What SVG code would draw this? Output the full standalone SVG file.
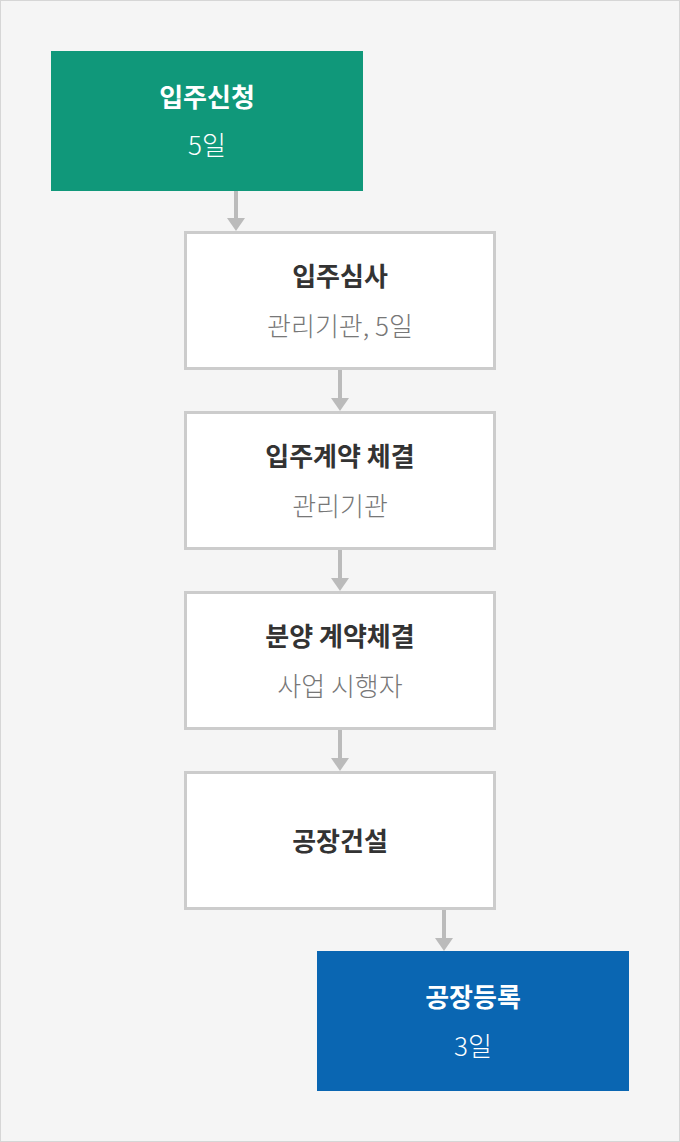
<svg xmlns="http://www.w3.org/2000/svg" width="680" height="1142" viewBox="0 0 680 1142">
<defs>
<style>
.t{font-family:"Noto Sans CJK KR","Noto Sans",sans-serif;font-size:26px;font-weight:700;text-anchor:middle}
.s{font-family:"Noto Sans CJK KR","Noto Sans",sans-serif;font-size:26px;font-weight:300;text-anchor:middle}
.dk{fill:#333333}
.gy{fill:#777777}
.wh{fill:#ffffff}
.box{fill:#ffffff;stroke:#cccccc;stroke-width:3}
.ln{stroke:#bbbbbb;stroke-width:4;fill:none}
.ah{fill:#bbbbbb}
</style>
</defs>
<rect x="0.5" y="0.5" width="679" height="1141" fill="#f5f5f5" stroke="#d6d6d6" stroke-width="1"/>
<g id="connectors">
<line class="ln" x1="236" y1="191" x2="236" y2="219"/>
<polygon class="ah" points="227,218 245,218 236,231"/>
<line class="ln" x1="340" y1="370" x2="340" y2="399"/>
<polygon class="ah" points="331,398 349,398 340,411"/>
<line class="ln" x1="340" y1="550" x2="340" y2="579"/>
<polygon class="ah" points="331,578 349,578 340,591"/>
<line class="ln" x1="340" y1="730" x2="340" y2="759"/>
<polygon class="ah" points="331,758 349,758 340,771"/>
<line class="ln" x1="444" y1="910" x2="444" y2="939"/>
<polygon class="ah" points="435,938 453,938 444,951"/>
</g>
<g id="n1">
<rect x="51" y="51" width="312" height="140" fill="#10987a"/>
<text class="t wh" x="207" y="107">입주신청</text>
<text class="s wh" x="207" y="155">5일</text>
</g>
<g id="n2">
<rect class="box" x="185.5" y="232.5" width="309" height="136"/>
<text class="t dk" x="340" y="286">입주심사</text>
<text class="s gy" x="340" y="336">관리기관, 5일</text>
</g>
<g id="n3">
<rect class="box" x="185.5" y="412.5" width="309" height="136"/>
<text class="t dk" x="340" y="466">입주계약 체결</text>
<text class="s gy" x="340" y="516">관리기관</text>
</g>
<g id="n4">
<rect class="box" x="185.5" y="592.5" width="309" height="136"/>
<text class="t dk" x="340" y="646">분양 계약체결</text>
<text class="s gy" x="340" y="696">사업 시행자</text>
</g>
<g id="n5">
<rect class="box" x="185.5" y="772.5" width="309" height="136"/>
<text class="t dk" x="340" y="851">공장건설</text>
</g>
<g id="n6">
<rect x="317" y="951" width="312" height="140" fill="#0a66b2"/>
<text class="t wh" x="473" y="1007">공장등록</text>
<text class="s wh" x="473" y="1056">3일</text>
</g>
</svg>
